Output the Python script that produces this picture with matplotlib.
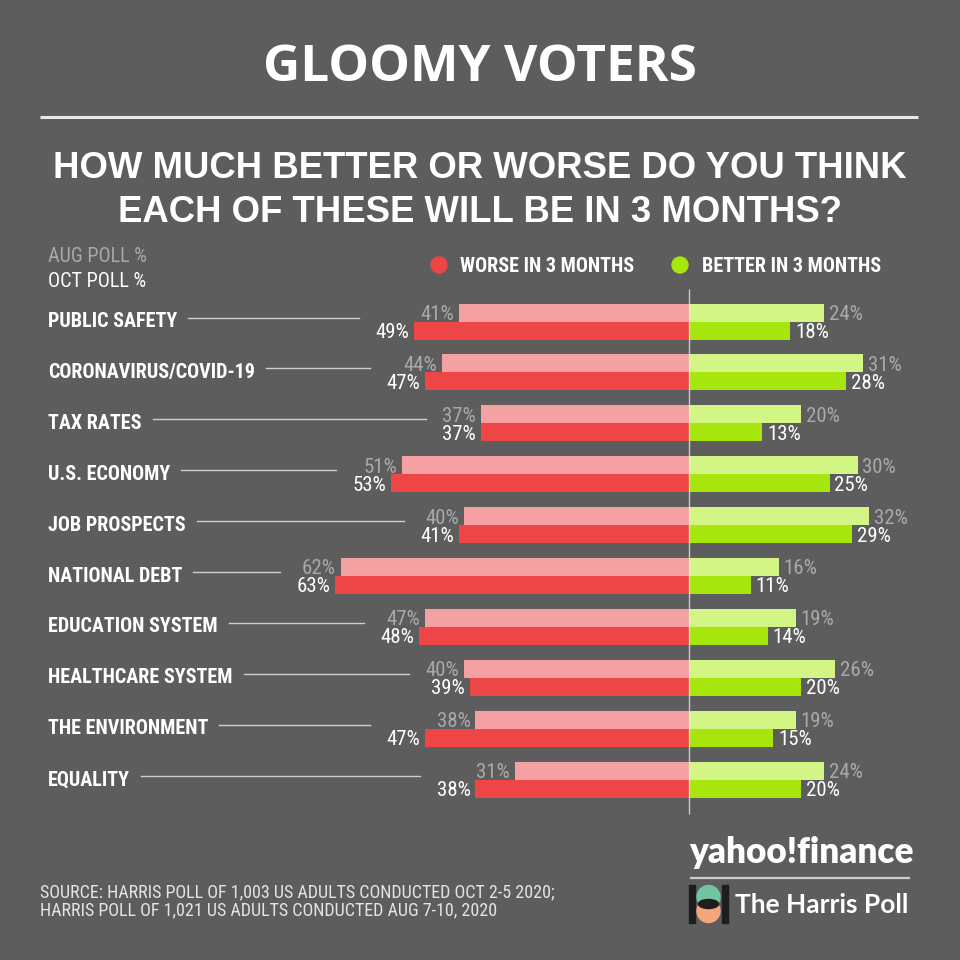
import matplotlib
matplotlib.use("Agg")
import matplotlib.pyplot as plt
from matplotlib import font_manager as fm
from matplotlib.patches import Circle, Ellipse, Rectangle

# ---------------- data ----------------
categories = ["PUBLIC SAFETY", "CORONAVIRUS/COVID-19", "TAX RATES", "U.S. ECONOMY",
              "JOB PROSPECTS", "NATIONAL DEBT", "EDUCATION SYSTEM",
              "HEALTHCARE SYSTEM", "THE ENVIRONMENT", "EQUALITY"]
worse_aug = [41, 44, 37, 51, 40, 62, 47, 40, 38, 31]
worse_oct = [49, 47, 37, 53, 41, 63, 48, 39, 47, 38]
better_aug = [24, 31, 20, 30, 32, 16, 19, 26, 19, 24]
better_oct = [18, 28, 13, 25, 29, 11, 14, 20, 15, 20]

title = "GLOOMY VOTERS"
subtitle = ["HOW MUCH BETTER OR WORSE DO YOU THINK", "EACH OF THESE WILL BE IN 3 MONTHS?"]
legend_labels = ["WORSE IN 3 MONTHS", "BETTER IN 3 MONTHS"]
poll_labels = ["AUG POLL %", "OCT POLL %"]
source = ["SOURCE: HARRIS POLL OF 1,003 US ADULTS CONDUCTED OCT 2-5 2020;",
          "HARRIS POLL OF 1,021 US ADULTS CONDUCTED AUG 7-10, 2020"]

# ---------------- style ----------------
BG = "#5d5d5d"
RED = "#ee4646"
RED_L = "#f5a0a2"
GRN = "#a6e60c"
GRN_L = "#d3f585"
GRAY_T = "#a9a9a9"
WHITE = "#ffffff"

names = {f.name for f in fm.fontManager.ttflist}
def pick(*cands):
    for c in cands:
        if c in names:
            return c
    return "DejaVu Sans"

COND = pick("Liberation Sans Narrow", "Roboto Condensed", "Open Sans Condensed", "DejaVu Sans")
WIDE_B = pick("Open Sans", "Lato", "DejaVu Sans")
HEAD = pick("Liberation Sans", "Arimo", "DejaVu Sans")
LOGO = pick("Lato", "Open Sans", "DejaVu Sans")

W = H = 960
fig = plt.figure(figsize=(9.6, 9.6), dpi=100, facecolor=BG)

# data axes: x in percent, y in row units
CX = 689.0        # pixel of zero line
SC = 5.62         # pixels per percent
R0 = 321.5        # pixel centre of first row
STEP = 50.9       # pixels per row
ax = fig.add_axes([0, 0, 1, 1])
ax.set_facecolor("none")
ax.axis("off")
ax.set_xlim(-CX / SC, (W - CX) / SC)
ax.set_ylim((H - R0) / STEP, -R0 / STEP)

# overlay axes in pixel coords
ov = fig.add_axes([0, 0, 1, 1], zorder=-1)
ov.set_facecolor(BG)
ov.set_xlim(0, W)
ov.set_ylim(H, 0)
ov.axis("off")

n = len(categories)
ys = list(range(n))
off = 9.0 / STEP
bh = 18.0 / STEP

ax.barh([y - off for y in ys], [-v for v in worse_aug], height=bh, color=RED_L, zorder=2)
ax.barh([y + off for y in ys], [-v for v in worse_oct], height=bh, color=RED, zorder=2)
ax.barh([y - off for y in ys], better_aug, height=bh, color=GRN_L, zorder=2)
ax.barh([y + off for y in ys], better_oct, height=bh, color=GRN, zorder=2)

# zero line
ax.plot([0, 0], [(289 - R0) / STEP, (814 - R0) / STEP], color="#e6e6e6",
        lw=1.0, alpha=0.8, zorder=3, solid_capstyle="butt")

PCT_FS = 15
base_dy = -5.4  # points: baseline below bar centre
for i in ys:
    ax.annotate(f"{worse_aug[i]}%", xy=(-worse_aug[i], i - off), xytext=(-3.5, base_dy),
                textcoords="offset points", ha="right", va="baseline",
                color=GRAY_T, fontsize=PCT_FS, family=COND, fontstretch="condensed")
    ax.annotate(f"{worse_oct[i]}%", xy=(-worse_oct[i], i + off), xytext=(-3.5, base_dy),
                textcoords="offset points", ha="right", va="baseline",
                color=WHITE, fontsize=PCT_FS, family=COND, fontstretch="condensed")
    ax.annotate(f"{better_aug[i]}%", xy=(better_aug[i], i - off), xytext=(3.5, base_dy),
                textcoords="offset points", ha="left", va="baseline",
                color=GRAY_T, fontsize=PCT_FS, family=COND, fontstretch="condensed")
    ax.annotate(f"{better_oct[i]}%", xy=(better_oct[i], i + off), xytext=(3.5, base_dy),
                textcoords="offset points", ha="left", va="baseline",
                color=WHITE, fontsize=PCT_FS, family=COND, fontstretch="condensed")

# category labels + connector lines
fig.canvas.draw()
rend = fig.canvas.get_renderer()
for i, cat in enumerate(categories):
    rc = H - ax.transData.transform((0, i))[1]
    t = ov.text(48, rc + 5.5, cat, ha="left", va="baseline", color=WHITE,
                fontsize=14.5, fontweight="bold", family=COND, fontstretch="condensed")
    bb = t.get_window_extent(rend)
    x_end = ax.transData.transform((-max(worse_aug[i], worse_oct[i]), 0))[0] - 55
    ov.plot([bb.x1 + 11, x_end], [rc - 4, rc - 4], color="#cfcfcf", lw=1.0)

# title and rule
ov.text(480, 81, title, ha="center", va="baseline", color=WHITE, fontsize=37,
        fontweight="bold", family=WIDE_B)
ov.plot([40, 918], [117, 117], color="#e8e8e8", lw=2.2, solid_capstyle="butt")
ov.text(480, 178.3, subtitle[0], ha="center", va="baseline", color=WHITE,
        fontsize=26.3, fontweight="bold", family=HEAD)
ov.text(480, 221.7, subtitle[1], ha="center", va="baseline", color=WHITE,
        fontsize=26.3, fontweight="bold", family=HEAD)

# poll key
ov.text(48, 261.7, poll_labels[0], ha="left", va="baseline", color=GRAY_T,
        fontsize=14.5, family=COND, fontstretch="condensed")
ov.text(48, 286.7, poll_labels[1], ha="left", va="baseline", color=WHITE,
        fontsize=14.5, family=COND, fontstretch="condensed")

# legend
ov.add_patch(Circle((439, 265), 8, color=RED))
ov.text(460, 272.3, legend_labels[0], ha="left", va="baseline", color=WHITE,
        fontsize=14.5, fontweight="bold", family=COND, fontstretch="condensed")
ov.add_patch(Circle((680, 265), 8, color=GRN))
ov.text(702, 272.3, legend_labels[1], ha="left", va="baseline", color=WHITE,
        fontsize=14.5, fontweight="bold", family=COND, fontstretch="condensed")

# source
ov.text(40, 897, source[0], ha="left", va="baseline", color="#e4e4e4",
        fontsize=13, family=COND, fontstretch="condensed")
ov.text(40, 915.5, source[1], ha="left", va="baseline", color="#e4e4e4",
        fontsize=13, family=COND, fontstretch="condensed")

# logos
ov.text(689, 863, "yahoo!finance", ha="left", va="baseline", color=WHITE,
        fontsize=25.3, fontweight="heavy", family=LOGO)
ov.plot([690, 910], [878, 878], color="#cccccc", lw=1.6, solid_capstyle="butt")
ov.add_patch(Rectangle((689, 885), 6, 38, color="#1e1e1e"))
ov.add_patch(Rectangle((722, 885), 5.5, 38, color="#1e1e1e"))
ov.add_patch(Circle((708.5, 897), 11.5, color="#6fc4a2"))
ov.add_patch(Circle((708.5, 911), 11.5, color="#f4a67b"))
ov.add_patch(Ellipse((708.5, 904), 20, 9, color="#1e1e1e"))
ov.text(735, 913, "The Harris Poll", ha="left", va="baseline", color=WHITE,
        fontsize=19, fontweight="bold", family=LOGO)

fig.savefig("out.png", dpi=100, facecolor=BG)
